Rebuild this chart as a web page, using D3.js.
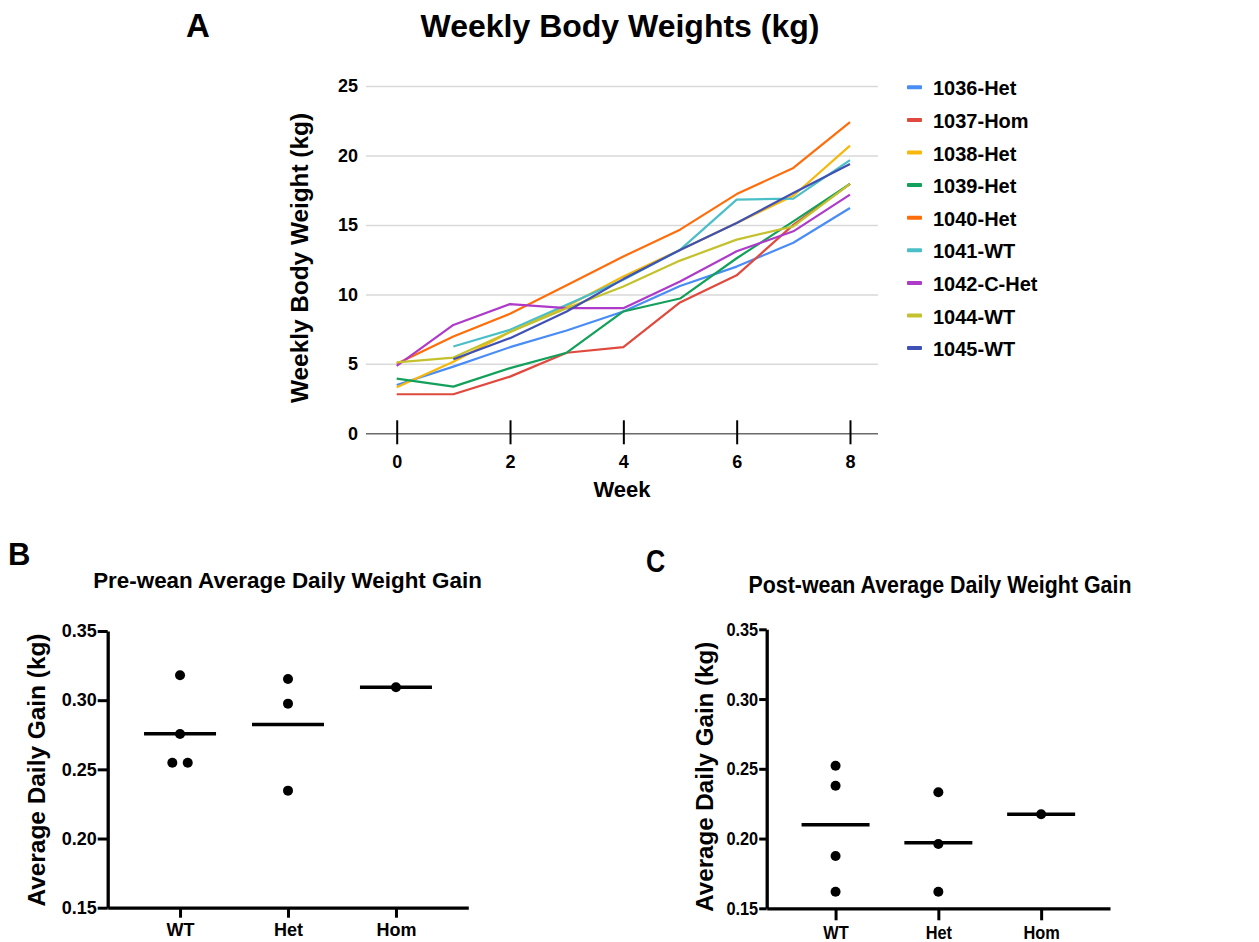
<!DOCTYPE html>
<html>
<head>
<meta charset="utf-8">
<title>Weekly Body Weights and Average Daily Gain</title>
<script src="https://d3js.org/d3.v7.min.js"></script>
<style>
  body { margin: 0; background: #fff; }
  text { font-family: "Liberation Sans", Arial, sans-serif; font-weight: bold; fill: #000; }
</style>
</head>
<body>
<script>
// ---- DATA ----
var weeks = [0, 1, 2, 3, 4, 5, 6, 7, 8];
var animals = ["1036-Het", "1037-Hom", "1038-Het", "1039-Het", "1040-Het", "1041-WT", "1042-C-Het", "1044-WT", "1045-WT"];
var animalColors = ["#4a8cf6", "#e0493d", "#f7b80c", "#12a05a", "#ff6d0a", "#4bbfc7", "#ad3ac8", "#c3c22e", "#3f51b5"];

var w1036 = [3.48, 4.8, 6.2, 7.4, 8.77, 10.6, 12.0, 13.72, 16.22];
var w1037 = [2.81, 2.81, 4.08, 5.8, 6.2, 9.42, 11.37, 15.0, 17.95];
var w1038 = [3.32, 5.15, 7.3, 9.15, 11.29, 13.2, 15.14, 17.1, 20.71];
var w1039 = [3.94, 3.36, 4.69, 5.8, 8.77, 9.7, 12.6, 15.26, 17.95];
var w1040 = [5.0, 6.97, 8.6, 10.65, 12.73, 14.66, 17.22, 19.1, 22.4];
var w1041 = [null, 6.25, 7.45, 9.25, 11.05, 13.2, 16.82, 16.89, 19.66];
var w1042 = [4.85, 7.8, 9.3, 9.01, 9.01, 10.93, 13.1, 14.54, 17.18];
var w1044 = [5.1, 5.45, 7.3, 9.0, 10.57, 12.43, 13.94, 14.9, 17.95];
var w1045 = [null, 5.33, 6.85, 8.77, 11.1, 13.2, 15.14, 17.3, 19.39];
var weightSeries = [w1036, w1037, w1038, w1039, w1040, w1041, w1042, w1044, w1045];

var yTicksA = [0, 5, 10, 15, 20, 25];
var xTicksA = [0, 2, 4, 6, 8];

var genotypes = ["WT", "Het", "Hom"];
var preWT = [0.318, 0.2756, 0.2548, 0.2548];
var preHet = [0.3153, 0.2975, 0.2346];
var preHom = [0.3093];
var postWT = [0.2522, 0.2379, 0.1875, 0.1619];
var postHet = [0.2332, 0.1961, 0.1619];
var postHom = [0.2174];
var gainTicks = [0.15, 0.20, 0.25, 0.30, 0.35];

// ---- SVG ----
var svg = d3.select("body").append("svg")
  .attr("width", 1259)
  .attr("height", 942);

// squeeze text horizontally (panel C is a bit condensed)
function squeeze(sel, f) {
  if (f === 1) return;
  sel.each(function() {
    var w = this.getComputedTextLength();
    d3.select(this).attr("textLength", w * f).attr("lengthAdjust", "spacingAndGlyphs");
  });
}

// ---- PANEL A : weekly body weights ----
var xA = d3.scaleLinear().domain([0, 8]).range([396.7, 850]);
var yA = d3.scaleLinear().domain([0, 25]).range([433.3, 86]);
var gridLeft = 366, gridRight = 878;

svg.append("text").attr("x", 186).attr("y", 37).attr("font-size", 33).text("A");
svg.append("text").attr("x", 620).attr("y", 37).attr("font-size", 32)
  .attr("text-anchor", "middle").text("Weekly Body Weights (kg)");

var yAxisA = svg.append("g")
  .attr("transform", "translate(" + gridLeft + ",0)")
  .call(d3.axisLeft(yA).tickValues(yTicksA).tickSize(-(gridRight - gridLeft)).tickPadding(8));
yAxisA.select(".domain").remove();
yAxisA.selectAll(".tick line")
  .attr("stroke", function(d) { return d === 0 ? "#6b6b6b" : "#d9d9d9"; })
  .attr("stroke-width", 1.5);
yAxisA.selectAll(".tick text").attr("font-size", 18).attr("font-family", null);

var xAxisA = svg.append("g")
  .attr("transform", "translate(0," + yA(0) + ")")
  .call(d3.axisBottom(xA).tickValues(xTicksA).tickFormat(d3.format("d")));
xAxisA.select(".domain").remove();
xAxisA.selectAll(".tick line").attr("y1", -13).attr("y2", 11).attr("stroke", "#000").attr("stroke-width", 2);
xAxisA.selectAll(".tick text").attr("y", 35).attr("dy", null).attr("font-size", 18).attr("font-family", null);

svg.append("text").attr("x", 622).attr("y", 497).attr("font-size", 22)
  .attr("text-anchor", "middle").text("Week");
svg.append("text")
  .attr("transform", "translate(308,258) rotate(-90)")
  .attr("font-size", 24).attr("text-anchor", "middle")
  .attr("textLength", 290).attr("lengthAdjust", "spacingAndGlyphs")
  .text("Weekly Body Weight (kg)");

var line = d3.line()
  .defined(function(d) { return d.v != null; })
  .x(function(d) { return xA(d.w); })
  .y(function(d) { return yA(d.v); });

svg.append("g").selectAll("path")
  .data(weightSeries)
  .enter()
    .append("path")
    .attr("fill", "none")
    .attr("stroke", function(d, i) { return animalColors[i]; })
    .attr("stroke-width", 2.2)
    .attr("stroke-linejoin", "round")
    .attr("d", function(s) { return line(s.map(function(v, i) { return {w: weeks[i], v: v}; })); });

// legend
var legend = svg.append("g").selectAll("g")
  .data(animals)
  .enter()
    .append("g")
    .attr("transform", function(d, i) { return "translate(907," + (87.3 + i * 32.6) + ")"; });
legend.append("rect")
  .attr("x", 0).attr("y", -2).attr("width", 15).attr("height", 4).attr("rx", 1)
  .attr("fill", function(d, i) { return animalColors[i]; });
legend.append("text")
  .attr("x", 26).attr("y", 8).attr("font-size", 20)
  .text(function(d) { return d; });

// ---- PANELS B and C : dot plots ----
function dotPanel(opt) {
  var x = d3.scalePoint().domain(genotypes).range([opt.left, opt.right]).padding(0.67);
  var y = d3.scaleLinear().domain([0.15, 0.35]).range([opt.bottom, opt.top]);
  var g = svg.append("g");

  var letter = g.append("text").attr("x", opt.letterX).attr("y", opt.letterY).attr("font-size", 31).text(opt.letter);
  squeeze(letter, opt.squeeze);
  var t = g.append("text").attr("x", opt.titleX).attr("y", opt.titleY)
    .attr("font-size", opt.titleSize).attr("text-anchor", "middle").text(opt.title);
  if (opt.titleLen) t.attr("textLength", opt.titleLen).attr("lengthAdjust", "spacingAndGlyphs");

  var ya = g.append("g")
    .attr("transform", "translate(" + opt.left + ",0)")
    .call(d3.axisLeft(y).tickValues(gainTicks).tickFormat(d3.format(".2f"))
      .tickSize(opt.yTick).tickSizeOuter(0).tickPadding(1));
  ya.select(".domain").attr("stroke-width", 3.3);
  ya.selectAll(".tick line").attr("stroke-width", 3);
  ya.selectAll(".tick text").attr("font-size", opt.tickFont).attr("font-family", null);
  squeeze(ya.selectAll(".tick text"), opt.squeeze);

  var xa = g.append("g")
    .attr("transform", "translate(0," + opt.bottom + ")")
    .call(d3.axisBottom(x).tickSize(opt.xTick).tickSizeOuter(0).tickPadding(opt.xPad));
  xa.select(".domain").attr("stroke-width", 3.3);
  xa.selectAll(".tick line").attr("stroke-width", 3);
  xa.selectAll(".tick text").attr("font-size", opt.tickFont).attr("font-family", null);
  squeeze(xa.selectAll(".tick text"), opt.squeeze);

  g.append("text")
    .attr("transform", "translate(" + opt.labelX + "," + opt.labelY + ") rotate(-90)")
    .attr("font-size", 24).attr("text-anchor", "middle")
    .attr("textLength", opt.labelLen).attr("lengthAdjust", "spacingAndGlyphs")
    .text("Average Daily Gain (kg)");

  // points, spread sideways when they would overlap
  var r = 5;
  opt.groups.forEach(function(vals, gi) {
    var cx = x(genotypes[gi]);
    var pts = vals.map(function(v) { return {v: v, py: y(v), dx: 0}; });
    pts.sort(function(a, b) { return a.py - b.py; });
    var clusters = [];
    pts.forEach(function(p) {
      var last = clusters[clusters.length - 1];
      if (last && Math.abs(last[last.length - 1].py - p.py) < 2 * r) last.push(p);
      else clusters.push([p]);
    });
    clusters.forEach(function(c) {
      c.forEach(function(p, i) { p.dx = (i - (c.length - 1) / 2) * 15.4; });
    });
    var m = d3.mean(vals);
    g.append("line")
      .attr("x1", cx - opt.meanW / 2).attr("x2", cx + opt.meanW / 2)
      .attr("y1", y(m)).attr("y2", y(m))
      .attr("stroke", "#000").attr("stroke-width", 3.5);
    g.selectAll(null).data(pts).enter()
      .append("circle")
      .attr("cx", function(p) { return cx + p.dx; })
      .attr("cy", function(p) { return p.py; })
      .attr("r", r)
      .attr("fill", "#000");
  });
}

dotPanel({
  left: 107.7, right: 468.3, top: 631, bottom: 907.7,
  letter: "B", letterX: 8, letterY: 565, squeeze: 1,
  title: "Pre-wean Average Daily Weight Gain", titleX: 287.5, titleY: 588, titleSize: 22.4,
  yTick: 10, xTick: 10, xPad: 6, meanW: 72, tickFont: 18,
  labelX: 45, labelY: 770, labelLen: 273,
  groups: [preWT, preHet, preHom]
});

dotPanel({
  left: 766.7, right: 1110, top: 629.3, bottom: 908.3,
  letter: "C", letterX: 646, letterY: 572, squeeze: 0.86,
  title: "Post-wean Average Daily Weight Gain", titleX: 940, titleY: 593, titleSize: 24, titleLen: 383,
  yTick: 7.5, xTick: 12, xPad: 5, meanW: 68, tickFont: 19,
  labelX: 713, labelY: 776.7, labelLen: 270,
  groups: [postWT, postHet, postHom]
});
</script>
</body>
</html>
